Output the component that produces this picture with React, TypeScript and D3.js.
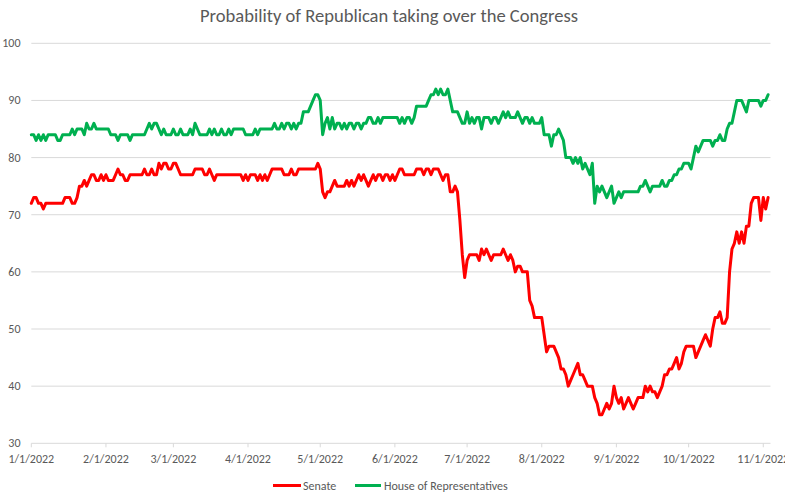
import React from 'react';
import * as d3 from 'd3';

// Daily series starting 1/1/2022
const startDate = new Date(2022, 0, 1);
const axisEndDate = new Date(2022, 10, 4);

const senateValues: number[] = [
  // Jan
  72,73,73,72,72,71,72,72,72,72,72,72,72,72,73,73,73,72,72,73,75,75,76,75,76,77,77,76,76,77,76,
  // Feb
  77,76,76,76,77,78,77,77,76,76,77,77,77,77,77,77,78,77,77,78,77,77,79,78,79,79,78,78,
  // Mar
  79,79,78,77,77,77,77,77,77,78,78,78,78,77,77,78,77,76,77,77,77,77,77,77,77,77,77,77,77,76,77,
  // Apr
  76,77,77,77,76,77,76,77,76,77,78,78,78,78,78,77,77,77,78,77,77,78,78,78,78,78,78,78,78,79,
  // May
  78,74,73,74,74,75,76,75,75,75,75,76,75,76,75,76,77,76,77,76,75,76,77,76,77,77,76,77,77,76,77,
  // Jun
  76,77,78,78,77,77,77,77,77,78,78,78,77,78,78,77,78,78,78,77,76,77,77,74,74,75,74,69,63,59,
  // Jul
  62,63,63,63,63,62,64,63,64,63,62,63,63,63,63,64,63,62,63,62,60,61,61,60,60,60,55,54,52,52,52,
  // Aug
  52,49,46,47,47,47,46,45,43,43,42,40,41,42,43,44,42,42,41,40,40,40,38,37,35,35,36,37,36,37,40,
  // Sep
  38,37,38,36,37,38,37,36,37,38,38,38,40,39,40,39,39,38,39,40,42,42,43,43,44,45,43,44,46,47,
  // Oct
  47,47,47,45,46,47,48,49,48,47,50,52,52,53,51,51,52,60,64,65,67,65,67,65,68,68,72,73,73,73,69,
  // Nov
  73,71,73,
];

const houseValues: number[] = [
  // Jan
  84,84,83,84,83,84,83,84,84,84,84,83,83,84,84,84,84,85,84,85,85,85,84,86,85,85,86,85,85,85,85,
  // Feb
  85,85,84,84,84,83,84,84,84,84,83,84,84,84,84,84,84,85,86,85,86,86,85,84,85,84,84,84,
  // Mar
  85,84,84,85,84,84,84,85,84,86,85,84,84,84,84,85,84,85,84,84,85,84,84,85,84,85,85,85,85,85,84,
  // Apr
  84,84,84,85,84,85,85,85,85,85,85,86,85,85,86,85,86,86,85,86,85,86,86,88,88,88,89,90,91,91,
  // May
  90,84,86,87,85,87,85,86,86,85,86,85,86,86,85,86,86,85,86,86,87,87,86,86,87,86,87,87,87,87,87,
  // Jun
  87,87,86,87,86,87,87,86,87,89,89,89,89,89,90,91,91,92,91,92,91,91,92,90,88,88,88,87,86,86,
  // Jul
  88,86,87,86,87,87,85,87,87,87,86,87,87,86,87,88,87,88,87,87,87,88,87,86,87,87,86,87,86,86,86,
  // Aug
  87,84,84,84,82,84,84,85,84,83,80,80,80,79,80,79,80,78,79,78,77,79,72,75,74,75,74,73,74,75,72,
  // Sep
  73,74,73,74,74,74,74,74,74,74,75,75,76,75,74,75,75,75,75,76,75,75,76,76,77,77,78,78,79,79,
  // Oct
  79,78,80,82,81,82,83,83,83,83,82,83,83,84,83,83,85,86,86,88,90,90,90,89,88,90,90,90,90,90,89,
  // Nov
  90,90,91,
];

const yTicks: number[] = [30, 40, 50, 60, 70, 80, 90, 100];
const xTickDates: Date[] = d3.timeMonth.range(new Date(2022, 0, 1), new Date(2022, 10, 2));

const titleText = 'Probability of Republican taking over the Congress';
const seriesNames = ['Senate', 'House of Representatives'];
const seriesColors = ['#ff0000', '#00b050'];

const W = 785;
const H = 501;
const FONT = "Carlito, Calibri, 'Liberation Sans', Arial, sans-serif";

export default function App() {
  const x = d3.scaleTime().domain([startDate, axisEndDate]).range([31.3, 770.5]);
  const y = d3.scaleLinear().domain([30, 100]).range([443.3, 43.3]);
  const fmt = d3.timeFormat('%-m/%-d/%Y');

  const toPoints = (vals: number[]) =>
    vals.map((v, i) => ({ date: d3.timeDay.offset(startDate, i), v }));

  const line = d3
    .line<{ date: Date; v: number }>()
    .x((d) => x(d.date))
    .y((d) => y(d.v));

  const series = [senateValues, houseValues];

  return (
    <svg
      width={W}
      height={H}
      style={{ position: 'absolute', left: 0, top: 0, background: '#fff' }}
      fontFamily={FONT}
    >
      <rect x={0} y={0} width={W} height={H} fill="#fff" />
      <text
        x={389}
        y={22}
        textAnchor="middle"
        fontSize={18}
        fill="#595959"
        textLength={378}
        lengthAdjust="spacingAndGlyphs"
      >
        {titleText}
      </text>

      {yTicks.map((t) => (
        <g key={t}>
          <line x1={31.3} x2={770.5} y1={y(t)} y2={y(t)} stroke="#d9d9d9" strokeWidth={1} />
          <text x={20.5} y={y(t) + 4} textAnchor="end" fontSize={12} fill="#595959">
            {t}
          </text>
        </g>
      ))}

      {xTickDates.map((d, i) => (
        <g key={i}>
          <line x1={x(d)} x2={x(d)} y1={y(30)} y2={y(30) + 4} stroke="#d9d9d9" strokeWidth={1} />
          <text x={x(d)} y={462.5} textAnchor="middle" fontSize={12} fill="#595959">
            {fmt(d)}
          </text>
        </g>
      ))}

      {series.map((vals, i) => (
        <path
          key={i}
          d={line(toPoints(vals)) || ''}
          fill="none"
          stroke={seriesColors[i]}
          strokeWidth={3}
          strokeLinejoin="round"
          strokeLinecap="round"
        />
      ))}

      <g>
        <line x1={273} x2={301} y1={485.5} y2={485.5} stroke={seriesColors[0]} strokeWidth={3} />
        <text x={303} y={489.5} fontSize={12} fill="#595959">
          {seriesNames[0]}
        </text>
        <line x1={355} x2={381} y1={485.5} y2={485.5} stroke={seriesColors[1]} strokeWidth={3} />
        <text x={384} y={489.5} fontSize={12} fill="#595959">
          {seriesNames[1]}
        </text>
      </g>
    </svg>
  );
}
